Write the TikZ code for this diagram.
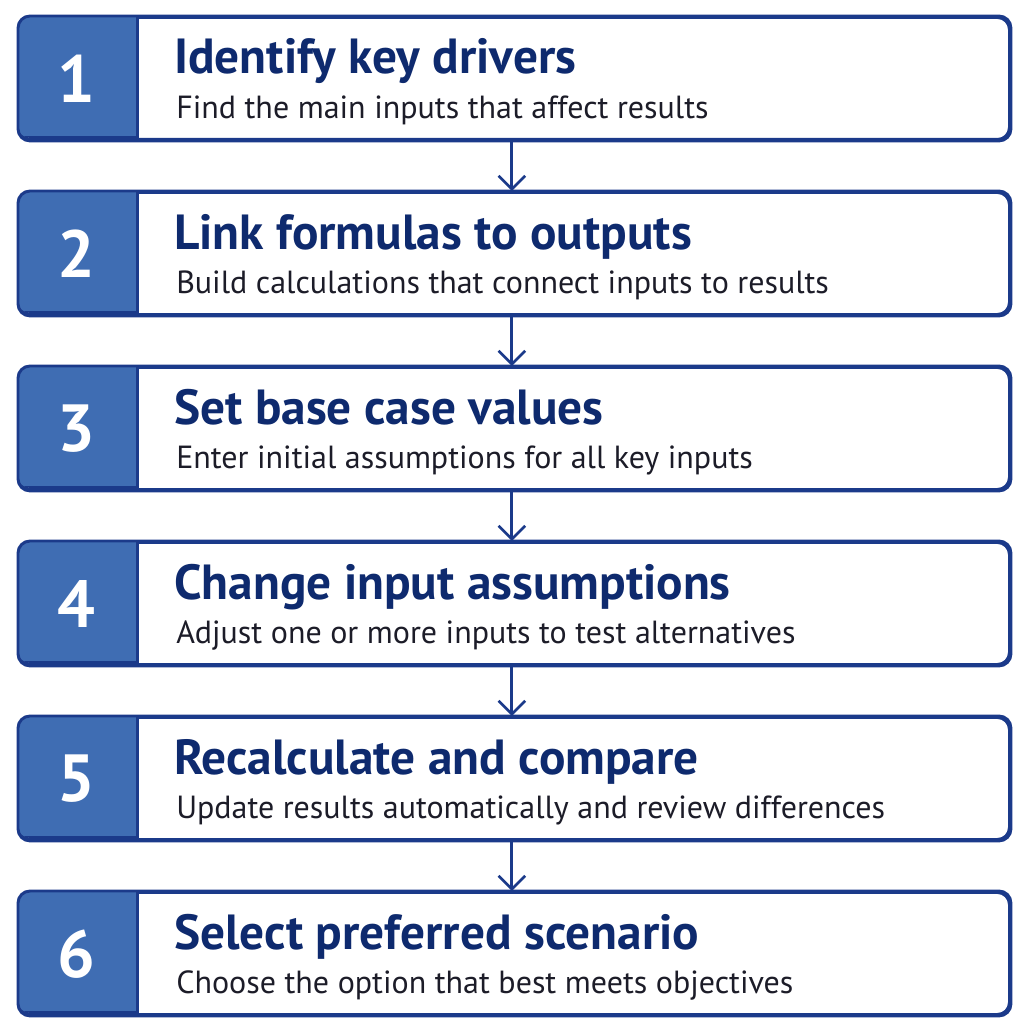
\documentclass[tikz,border=0pt]{standalone}
\usepackage{fontspec}
\setmainfont{PT Sans}
\usetikzlibrary{arrows.meta, positioning}
\definecolor{navy}{HTML}{1B3A8A}
\definecolor{numblue}{HTML}{3F6DB3}
\definecolor{textnavy}{HTML}{0E2A6E}
\definecolor{descgray}{HTML}{1C1C28}
\begin{document}
\begin{tikzpicture}[
    x=0.75pt, y=-0.75pt,
    step box/.style = {draw=navy, line width=2.2pt, rounded corners=9pt, fill=white,
      minimum width=742.5pt, minimum height=91.5pt, anchor=north west},
    num box/.style = {fill=numblue, draw=navy, line width=2.2pt, anchor=north west,
      minimum width=90pt, minimum height=91.5pt},
    title/.style = {anchor=base west, text=textnavy, inner sep=0pt,
      font=\bfseries\fontsize{37}{39}\selectfont},
    desc/.style = {anchor=base west, text=descgray, inner sep=0pt,
      font=\fontsize{24}{26}\selectfont},
    flow/.style = {-{Straight Barb[length=10pt,width=20pt,line width=2pt]}, navy, line width=2.2pt}
  ]
  \useasboundingbox (0,0) rectangle (1026,1024);
  \foreach \i/\t/\d in {
      1/Identify key drivers/Find the main inputs that affect results,
      2/Link formulas to outputs/Build calculations that connect inputs to results,
      3/Set base case values/Enter initial assumptions for all key inputs,
      4/Change input assumptions/Adjust one or more inputs to test alternatives,
      5/Recalculate and compare/Update results automatically and review differences,
      6/Select preferred scenario/Choose the option that best meets objectives} {
    \pgfmathsetmacro{\y}{16+175*(\i-1)}
    \node[step box] (box\i) at (18,\y) {};
    \begin{scope}
      \clip[rounded corners=9pt] (18,\y) rectangle ++(990,122);
      \node[num box] (num\i) at (16,\y-2) {};
    \end{scope}
    \draw[navy, line width=2.2pt, rounded corners=9pt] (box\i.north west) rectangle (box\i.south east);
    \node[white, font=\bfseries\fontsize{50}{50}\selectfont] (n\i) at (76,\y+63) {\i};
    \node[title] (t\i) at (174,\y+58) {\t};
    \node[desc] (d\i) at (176,\y+102) {\d};
  }
  % connectors
  \foreach \i [evaluate=\i as \j using int(\i+1)] in {1,...,5}
    \draw[flow] ([xshift=-2pt]box\i.south) -- ([xshift=-2pt]box\j.north);
\end{tikzpicture}
\end{document}
